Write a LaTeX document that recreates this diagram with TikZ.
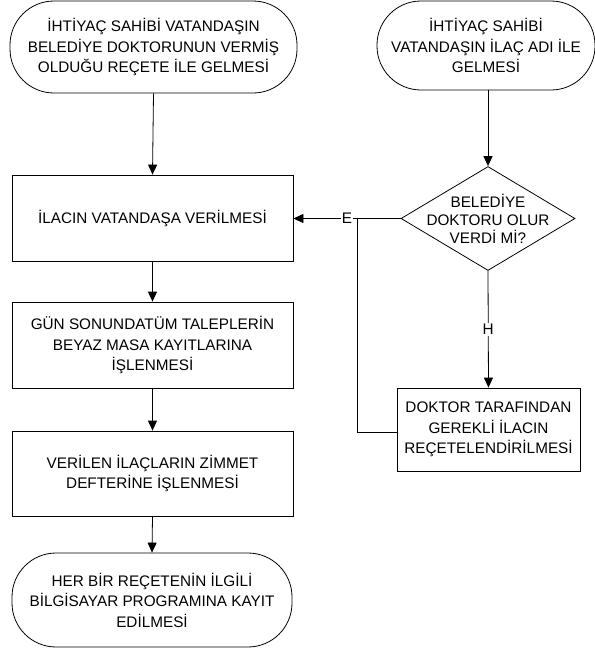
\documentclass[tikz,border=0pt]{standalone}
\usepackage{fontspec}
\setmainfont{Liberation Sans}
\usetikzlibrary{shapes.geometric,arrows.meta}
\begin{document}
\begin{tikzpicture}[x=1pt,y=-1pt,
  every node/.style={font=\fontsize{15.3}{20.5}\selectfont, align=center, inner sep=0pt},
  line/.style={draw, line width=0.8pt},
  arr/.style={line, -{Triangle[length=10pt,width=9pt]}},
  term/.style={draw, line width=0.8pt, rectangle, rounded corners=44pt},
  proc/.style={draw, line width=0.8pt, rectangle},
  decision/.style={draw, line width=0.8pt, diamond},
  lbl/.style={fill=white, inner sep=1pt}]
\useasboundingbox (0,0) rectangle (595,654);
\node[term, minimum width=287pt, minimum height=92pt] (t1) at (153.5,47) {İHTİYAÇ SAHİBİ VATANDAŞIN\\BELEDİYE DOKTORUNUN VERMİŞ\\OLDUĞU REÇETE İLE GELMESİ};
\node[term, minimum width=218pt, minimum height=89pt] (t2) at (486,45.5) {İHTİYAÇ SAHİBİ\\VATANDAŞIN İLAÇ ADI İLE\\GELMESİ};
\node[proc, minimum width=281pt, minimum height=86pt] (b1) at (152.5,218) {İLACIN VATANDAŞA VERİLMESİ};
\node[proc, minimum width=281pt, minimum height=86pt] (b2) at (152.5,345) {GÜN SONUNDATÜM TALEPLERİN\\BEYAZ MASA KAYITLARINA\\İŞLENMESİ};
\node[proc, minimum width=281pt, minimum height=85pt] (b3) at (152.5,473.5) {VERİLEN İLAÇLARIN ZİMMET\\DEFTERİNE İŞLENMESİ};
\node[term, minimum width=280pt, minimum height=94pt] (t3) at (152,600) {HER BİR REÇETENİN İLGİLİ\\BİLGİSAYAR PROGRAMINA KAYIT\\EDİLMESİ};
\node[decision, minimum width=174pt, minimum height=104pt] (d) at (488,218.5) {};
\node[font=\fontsize{15.3}{18}\selectfont] (dtext) at (d.center) {BELEDİYE\\DOKTORU OLUR\\VERDİ Mİ?};
\node[proc, minimum width=183pt, minimum height=83pt] (b4) at (488.5,429.5) {DOKTOR TARAFINDAN\\GEREKLİ İLACIN\\REÇETELENDİRİLMESİ};
\coordinate (e) at (357,218.5);
\coordinate (ec) at (357,432);
\node[lbl] (elbl) at (347,218.5) {E};
\draw[arr] (t1.south) -- (b1.north);
\draw[arr] (b1.south) -- (b2.north);
\draw[arr] (b2.south) -- (b3.north);
\draw[arr] (b3.south) -- (t3.north);
\draw[arr] (t2.south -| d.north) -- (d.north);
\draw[line] (d.west) -- (elbl.east);
\draw[arr] (elbl.west) -- (b1.east |- d.west);
\draw[line] (e) -- (ec) -- (b4.west |- ec);
\draw[arr] (d.south) -- (b4.north) node[lbl, pos=0.5] {H};
\end{tikzpicture}
\end{document}
